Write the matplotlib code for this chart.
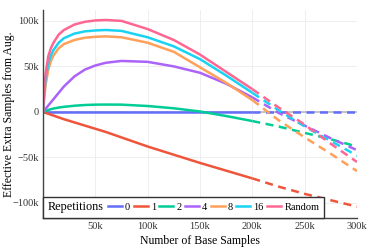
import numpy as np
import matplotlib
matplotlib.use("Agg")
import matplotlib.pyplot as plt
from matplotlib.lines import Line2D
from matplotlib.offsetbox import HPacker

plt.rcParams['font.family'] = ['Liberation Serif', 'DejaVu Serif']

# Base samples (in thousands) and effective extra samples (in thousands)
base_k = [0, 1, 2.5, 5, 7.5, 10, 15, 20, 30, 40, 50, 60, 75, 100, 125, 150, 175, 200,
          225, 250, 275, 300]

reps = ['0', '1', '2', '4', '8', '16', 'Random']
extra_k = {
    '0':      [0] * 22,
    '1':      [0, -0.4, -1, -2, -3, -4, -6, -8, -11.5, -15, -18.5, -22, -28, -38, -47, -56,
               -64.5, -73, -82, -90, -97, -104],
    '2':      [0, 0.5, 1.2, 2.2, 3, 3.7, 4.8, 5.6, 6.8, 7.6, 8, 8.1, 8, 6.5, 4, 0.5, -4.5, -10,
               -16, -23, -30, -38],
    '4':      [0, 1.5, 3.5, 7, 10.5, 14, 21, 28, 39, 46.5, 51, 54, 56, 55, 50, 43, 31, 16,
               -1, -15, -29, -42],
    '8':      [0, 14, 30, 46, 56, 62, 70, 74.5, 79, 81.5, 82.5, 83, 82, 76, 66, 49, 32, 13,
               -9, -28, -46, -65],
    '16':     [0, 17, 36, 53, 62, 68, 76, 81, 86, 88.5, 89.5, 90, 89, 82, 72, 58, 40, 21,
               2, -16, -32, -48],
    'Random': [0, 20, 42, 61, 70, 76, 85, 90, 96, 99, 100.5, 101, 100, 91, 79, 63, 44, 25,
               5, -14, -35, -55],
}
colors = {'0': '#636EFA', '1': '#EF553B', '2': '#00CC96', '4': '#AB63FA',
          '8': '#FFA15A', '16': '#19D3F3', 'Random': '#FF6692'}

x = np.array(base_k) * 1000
split = base_k.index(200)

fig = plt.figure(figsize=(3.73, 2.49), dpi=100)
ax = fig.add_axes([0.1153, 0.1245, 0.8418, 0.8355])

ax.axhline(0, color='#bbbbbb', lw=1.2, zorder=1)
for r in reps:
    y = np.array(extra_k[r]) * 1000
    ax.plot(x[:split + 1], y[:split + 1], color=colors[r], lw=1.8,
            solid_capstyle='butt', solid_joinstyle='round', zorder=2)
    ax.plot(x[split:], y[split:], color=colors[r], lw=1.8, ls=(0, (3.2, 2.2)),
            dash_capstyle='butt', zorder=2)

ax.set_xlim(0, 300000)
ax.set_ylim(-116500, 112000)
ax.set_xticks([50000, 100000, 150000, 200000, 250000, 300000])
ax.set_xticklabels(['50k', '100k', '150k', '200k', '250k', '300k'])
ax.set_yticks([-100000, -50000, 0, 50000, 100000])
ax.set_yticklabels(['\u2212100k', '\u221250k', '0', '50k', '100k'])
ax.tick_params(length=0, labelsize=7.5, colors='#333333', pad=3)
ax.grid(color='#eeeeee', lw=0.7)
ax.set_axisbelow(True)
for s in ['top', 'right']:
    ax.spines[s].set_visible(False)
for s in ['left', 'bottom']:
    ax.spines[s].set_color('#444444')
    ax.spines[s].set_linewidth(1.0)

ax.set_xlabel('Number of Base Samples', fontsize=8.5, labelpad=3)
ax.set_ylabel('Effective Extra Samples from Aug.', fontsize=8.5)
ax.yaxis.set_label_coords(-0.088, 0.5)

handles = [Line2D([], [], color=colors[r], lw=1.8) for r in reps]
leg = ax.legend(handles, reps, ncol=7, loc='lower left', bbox_to_anchor=(0, 0),
                borderaxespad=0, fontsize=7.5, title='Repetitions',
                title_fontsize=8.8, handlelength=1.35, handletextpad=0.3,
                columnspacing=0.32, borderpad=0.45, fancybox=False, framealpha=1,
                edgecolor='#333333')
leg.get_frame().set_linewidth(1.0)
# put the title to the left of the entries
fs = leg._fontsize
box = HPacker(pad=leg.borderpad * fs, sep=0.4 * fs, align='center',
              children=[leg._legend_title_box, leg._legend_handle_box])
box.set_figure(fig)
box.axes = ax
box.set_offset(leg._findoffset)
leg._legend_box = box

fig.savefig('out.png', dpi=100)
